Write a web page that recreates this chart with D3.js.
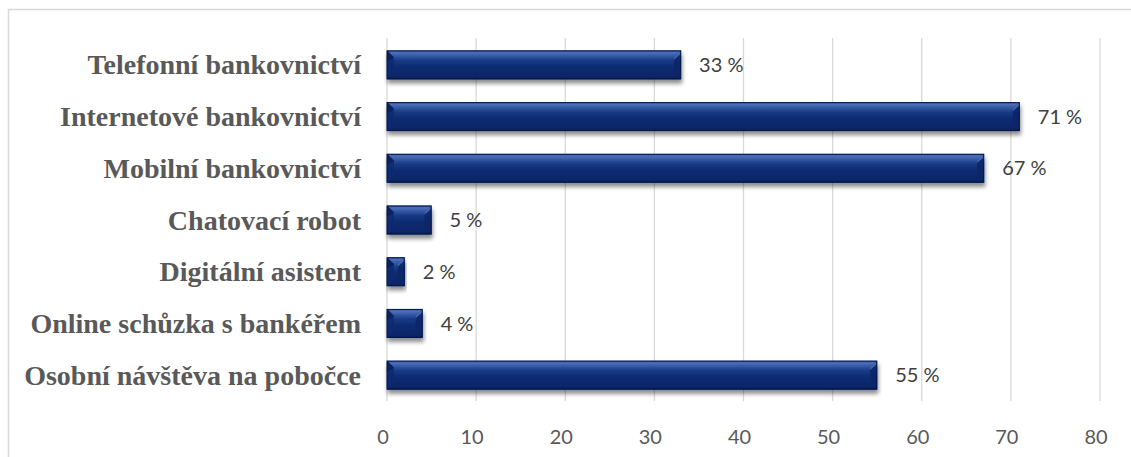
<!DOCTYPE html>
<html>
<head>
<meta charset="utf-8">
<script src="https://cdn.jsdelivr.net/npm/d3@7"></script>
<style>
  html, body { margin: 0; padding: 0; background: #fff; }
  svg { display: block; }
</style>
</head>
<body>
<svg id="chart" width="1131" height="457"></svg>
<script>
// Channels used for contact with the bank, share of respondents (%)
const categories = [
  "Telefonní bankovnictví",
  "Internetové bankovnictví",
  "Mobilní bankovnictví",
  "Chatovací robot",
  "Digitální asistent",
  "Online schůzka s bankéřem",
  "Osobní návštěva na pobočce"
];
const values = [33, 71, 67, 5, 2, 4, 55];
const xTicks = [0, 10, 20, 30, 40, 50, 60, 70, 80];

const svg = d3.select("#chart");

// Outer chart frame
svg.append("rect")
  .attr("x", 8.5).attr("y", 9.5)
  .attr("width", 1200).attr("height", 500)
  .attr("fill", "none")
  .attr("stroke", "#d9d9d9")
  .attr("stroke-width", 1.5);

const x = d3.scaleLinear().domain([0, 80]).range([387, 1100]);
const y = d3.scaleBand().domain(categories).range([39, 401])
  .paddingInner(0.44).paddingOuter(0.22);

const defs = svg.append("defs");

// Vertical shading of the bar body
const grad = defs.append("linearGradient")
  .attr("id", "barGrad").attr("x1", 0).attr("y1", 0).attr("x2", 0).attr("y2", 1);
[
  [0, "#2c4f9a"], [0.08, "#4d6fb8"], [0.2, "#3357a3"], [0.35, "#173a85"],
  [0.6, "#0b2a70"], [0.88, "#0a276a"], [1, "#061c52"]
].forEach(([o, c]) => grad.append("stop").attr("offset", o).attr("stop-color", c));

// Soft shadow under the bars
const shadow = defs.append("filter").attr("id", "shadow")
  .attr("x", "-10%").attr("y", "-30%").attr("width", "120%").attr("height", "180%");
shadow.append("feGaussianBlur").attr("in", "SourceAlpha").attr("stdDeviation", 2.2).attr("result", "b");
shadow.append("feOffset").attr("in", "b").attr("dx", 1).attr("dy", 3.5).attr("result", "o");
shadow.append("feComponentTransfer").attr("in", "o").attr("result", "s")
  .append("feFuncA").attr("type", "linear").attr("slope", 0.45);
const merge = shadow.append("feMerge");
merge.append("feMergeNode").attr("in", "s");
merge.append("feMergeNode").attr("in", "SourceGraphic");

// Gridlines
svg.append("g").selectAll("line").data(xTicks).join("line")
  .attr("x1", d => x(d)).attr("x2", d => x(d))
  .attr("y1", 38).attr("y2", 401)
  .attr("stroke", "#d9d9d9").attr("stroke-width", 1.3);

// Tick labels
svg.append("g").selectAll("text").data(xTicks).join("text")
  .attr("x", d => x(d) - 4).attr("y", 444)
  .attr("text-anchor", "middle")
  .attr("font-family", "Lato, 'Open Sans', sans-serif")
  .attr("font-size", 20)
  .attr("fill", "#595959")
  .text(d => d);

// Bars with bevelled ends
const bars = svg.append("g").selectAll("g").data(categories).join("g")
  .attr("filter", "url(#shadow)");

bars.append("rect")
  .attr("x", x(0))
  .attr("y", d => y(d))
  .attr("width", (d, i) => x(values[i]) - x(0))
  .attr("height", y.bandwidth())
  .attr("fill", "url(#barGrad)");

const bev = 7;
// left bevel highlight
bars.append("path")
  .attr("d", (d, i) => {
    const x0 = x(0), y0 = y(d), h = y.bandwidth();
    const b = Math.min(bev, (x(values[i]) - x0) / 2);
    return `M${x0},${y0}L${x0 + b},${y0 + b}L${x0 + b},${y0 + h - b}L${x0},${y0 + h}Z`;
  })
  .attr("fill", "#0e2c70").attr("opacity", 0.85);
bars.append("path")
  .attr("d", (d, i) => {
    const x0 = x(0), y0 = y(d);
    const b = Math.min(bev, (x(values[i]) - x0) / 2);
    return `M${x0},${y0}L${x0 + b},${y0 + b}L${x0},${y0 + b * 1.6}Z`;
  })
  .attr("fill", "#07205c");
// right bevel
bars.append("path")
  .attr("d", (d, i) => {
    const x1 = x(values[i]), y0 = y(d), h = y.bandwidth();
    const b = Math.min(bev, (x1 - x(0)) / 2);
    return `M${x1},${y0}L${x1 - b},${y0 + b}L${x1 - b},${y0 + h - b}L${x1},${y0 + h}Z`;
  })
  .attr("fill", "#0a2466").attr("opacity", 0.8);
bars.append("path")
  .attr("d", (d, i) => {
    const x1 = x(values[i]), y0 = y(d);
    const b = Math.min(bev, (x1 - x(0)) / 2);
    return `M${x1},${y0}L${x1 - b},${y0 + b}L${x1 - b},${y0 + b + 2}L${x1},${y0 + 3}Z`;
  })
  .attr("fill", "#5677bd").attr("opacity", 0.8);
// outline
bars.append("rect")
  .attr("x", x(0))
  .attr("y", d => y(d) + 0.5)
  .attr("width", (d, i) => x(values[i]) - x(0) - 0.5)
  .attr("height", y.bandwidth() - 1)
  .attr("fill", "none")
  .attr("stroke", "#061a4d").attr("stroke-width", 1);

// Value labels
svg.append("g").selectAll("text").data(categories).join("text")
  .attr("x", (d, i) => x(values[i]) + 18)
  .attr("y", d => y(d) + y.bandwidth() / 2)
  .attr("dy", "0.36em")
  .attr("font-family", "Lato, 'Open Sans', sans-serif")
  .attr("font-size", 20)
  .attr("fill", "#404040")
  .text((d, i) => values[i] + " %");

// Category labels
svg.append("g").selectAll("text").data(categories).join("text")
  .attr("x", 361)
  .attr("y", d => y(d) + y.bandwidth() / 2)
  .attr("dy", "0.34em")
  .attr("text-anchor", "end")
  .attr("font-family", "'Liberation Serif', 'Times New Roman', serif")
  .attr("font-weight", "bold")
  .attr("font-size", 28)
  .attr("fill", "#595959")
  .text(d => d);
</script>
</body>
</html>
